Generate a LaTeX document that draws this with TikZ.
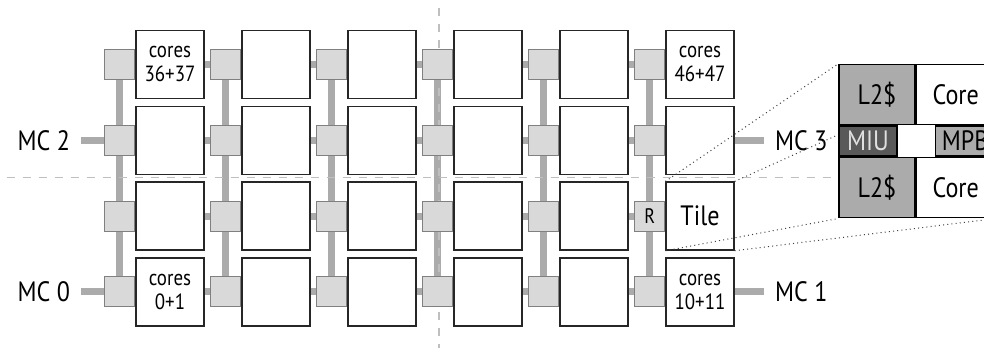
\documentclass[tikz,border=0pt]{standalone}
\usepackage{fontspec}
\setmainfont{PT Sans}[FakeStretch=0.86]
\usepackage{tikz}
\usetikzlibrary{positioning}
\pgfdeclarelayer{bg}
\pgfdeclarelayer{fg}
\pgfsetlayers{bg,main,fg}

\begin{document}
\begin{tikzpicture}[
    x=0.5pt, y=-0.5pt,
    node distance=0pt,
    tile/.style={draw=black!85, fill=white, line width=0.65pt, minimum width=34pt, minimum height=34pt, inner sep=0pt, align=center, font=\fontsize{11}{12}\selectfont},
    router/.style={draw=black!50, fill=black!15, line width=0.5pt, minimum width=15pt, minimum height=15pt, inner sep=0pt, font=\fontsize{10.5}{12}\selectfont},
    link/.style={draw=black!33, line width=3.5pt},
    mclabel/.style={inner xsep=5.5pt, inner ysep=0pt, font=\fontsize{14}{16}\selectfont},
    cut/.style={draw=black!25, line width=0.8pt, dash pattern=on 4pt off 4pt},
    zoomline/.style={draw=black!75, line width=0.5pt, dash pattern=on 0.5pt off 1.6pt},
    part/.style={draw=black, line width=0.6pt, inner sep=0pt, minimum height=30.3pt, font=\fontsize{14}{16}\selectfont},
    cache/.style={part, fill=black!33, minimum width=38pt},
    corebox/.style={part, fill=white, minimum width=39.5pt},
    port/.style={part, minimum height=15pt}
]
\useasboundingbox (0,0) rectangle (984,351);

% 6x4 mesh of tiles, each with its router on the left
\foreach \c in {1,...,6}
  \foreach \r in {1,...,4}
  {
    \node[tile] (t\c\r) at ({170+106*(\c-1)}, {64.5+75.8*(\r-1)}) {};
    \node[router, left=of t\c\r] (r\c\r) {};
  }

\node[tile, draw=none, fill=none] (txt11) at (t11) {cores\\36+37};
\node[tile, draw=none, fill=none] (txt61) at (t61) {cores\\46+47};
\node[tile, draw=none, fill=none] (txt14) at (t14) {cores\\0+1};
\node[tile, draw=none, fill=none] (txt64) at (t64) {cores\\10+11};
\node[tile, draw=none, fill=none, font=\fontsize{14}{16}\selectfont] (txt63) at (t63) {Tile};
\node[router, draw=none, fill=none] (txtr) at (r63) {R};

% memory controllers
\node[mclabel, left=11.5pt of r12] (mc2) {MC 2};
\node[mclabel, left=11.5pt of r14] (mc0) {MC 0};
\node[mclabel, right=14.5pt of t62] (mc3) {MC 3};
\node[mclabel, right=14.5pt of t64] (mc1) {MC 1};

% zoomed tile
\begin{pgfonlayer}{fg}
\node[cache] (l2a) at (877,94.6) {L2\$};
\node[corebox, right=of l2a] (corea) {Core};
\node[port, fill=black!65, text=black!12, minimum width=29pt, anchor=north west] (miu) at (l2a.south west) {MIU};
\node[port, fill=black!33, minimum width=30pt, anchor=north east] (mpb) at (corea.south east) {MPB};
\node[cache, anchor=north west] (l2b) at (miu.south west) {L2\$};
\node[corebox, right=of l2b] (coreb) {Core};
\end{pgfonlayer}

\draw[zoomline] (t63.north west) -- (l2a.north west);
\draw[zoomline] (t63.north east) -- (corea.north east);
\draw[zoomline] (t63.south west) -- (l2b.south west);
\draw[zoomline] (t63.south east) -- (coreb.south east);

\coordinate (hcut) at (7,177.7);
\coordinate (vtop) at (438.7,8);
\coordinate (vbot) at (438.7,348);

\begin{pgfonlayer}{bg}
\foreach \c in {1,...,6}
  \draw[link] (r\c1.center) -- (r\c4.center);
\foreach \c [count=\n from 2] in {1,...,5}
  \foreach \r in {1,...,4}
    \draw[link] (t\c\r.east) -- (r\n\r.west);
\draw[link] (mc2.east) -- (r12.west);
\draw[link] (mc0.east) -- (r14.west);
\draw[link] (t62.east) -- (mc3.west);
\draw[link] (t64.east) -- (mc1.west);
\draw[cut] (hcut) -- (hcut -| l2b.west);
\draw[cut] (vtop) -- (vbot);
\end{pgfonlayer}
\end{tikzpicture}
\end{document}
